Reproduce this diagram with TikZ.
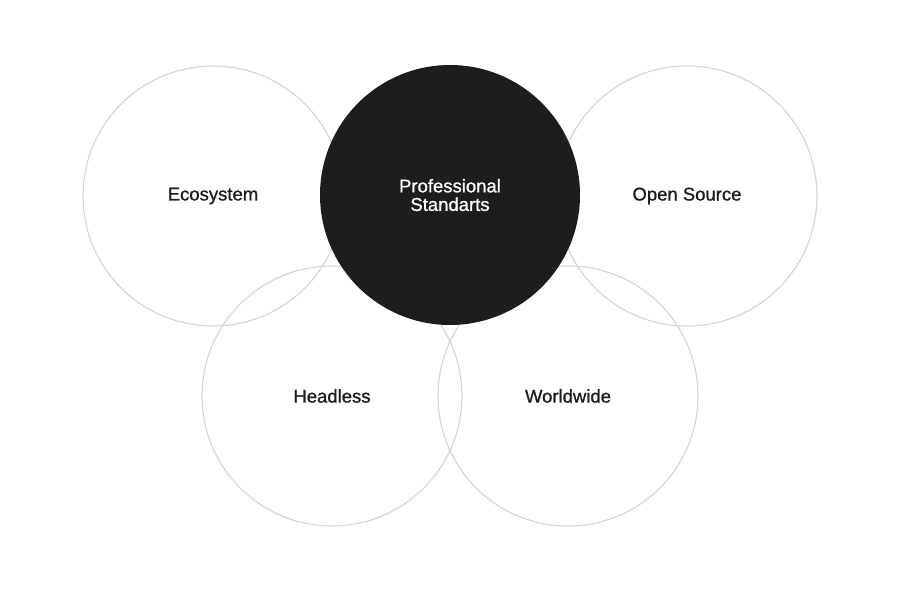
\documentclass[tikz,border=0pt]{standalone}
\usepackage{fontspec}
\setmainfont{Liberation Sans}[BoldFont=Liberation Sans,BoldFeatures={FakeBold=0.9}]
\definecolor{ring}{HTML}{D4D4D4}
\definecolor{ink}{HTML}{1C1D1F}
\begin{document}
\begin{tikzpicture}[x=1pt,y=-1pt,
  lbl/.style={font=\fontsize{18.5}{18.5}\selectfont\bfseries},
  ringc/.style={circle,draw=ring,line width=1.1pt,minimum size=260pt,inner sep=0pt,
     lbl,text=ink},
  darkc/.style={circle,fill=ink,draw=none,minimum size=260pt,inner sep=0pt}]
\useasboundingbox[fill=white] (0,0) rectangle (900,592);
\node[ringc] (eco) at (213,196) {Ecosystem};
\node[ringc] (open) at (687,196) {Open Source};
\node[ringc] (head) at (332,396) {Headless};
\node[ringc] (world) at (568,396) {Worldwide};
\node[darkc] (prof) at (450,195) {};
\node[lbl,text=white,align=center] (proflabel) at (450,195) {Professional\\Standarts};
\end{tikzpicture}
\end{document}
